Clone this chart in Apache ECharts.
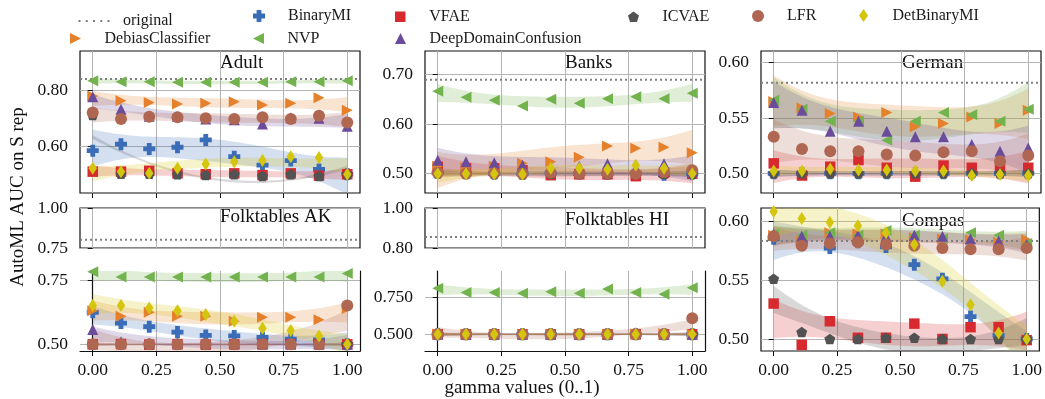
<!DOCTYPE html>
<html>
<head>
<meta charset="utf-8">
<script src="https://cdn.jsdelivr.net/npm/echarts@6/dist/echarts.min.js"></script>
<style>
  html, body { margin: 0; padding: 0; background: #fff; }
  #chart { width: 1045px; height: 399px; }
</style>
</head>
<body>
<div id="chart"></div>
<script>
// gamma values on the x axis
const gamma = [0.000, 0.111, 0.222, 0.333, 0.444, 0.556, 0.667, 0.778, 0.889, 1.000];
const xTicks = [0, 0.25, 0.5, 0.75, 1];

// drawing order of the methods (later ones on top)
const methods = ['BinaryMI', 'VFAE', 'ICVAE', 'DebiasClassifier', 'NVP', 'DeepDomainConfusion', 'LFR', 'DetBinaryMI'];

// mean AutoML AUC on the S representation, per gamma
const adult = {
  BinaryMI:            [0.586, 0.609, 0.592, 0.598, 0.624, 0.565, 0.535, 0.551, 0.520, 0.503],
  VFAE:                [0.512, 0.512, 0.515, 0.506, 0.503, 0.506, 0.500, 0.506, 0.498, 0.503],
  ICVAE:               [0.712, 0.505, 0.505, 0.503, 0.500, 0.503, 0.497, 0.503, 0.497, 0.503],
  DebiasClassifier:    [0.779, 0.762, 0.756, 0.751, 0.753, 0.759, 0.747, 0.753, 0.773, 0.729],
  NVP:                 [0.833, 0.829, 0.829, 0.827, 0.827, 0.827, 0.827, 0.829, 0.829, 0.833],
  DeepDomainConfusion: [0.776, 0.732, 0.707, 0.707, 0.698, 0.695, 0.680, 0.702, 0.700, 0.672],
  LFR:                 [0.721, 0.698, 0.706, 0.704, 0.700, 0.698, 0.704, 0.698, 0.709, 0.685],
  DetBinaryMI:         [0.524, 0.512, 0.506, 0.524, 0.539, 0.547, 0.551, 0.565, 0.562, 0.503]
};
const banks = {
  BinaryMI:            [0.502, 0.501, 0.500, 0.500, 0.501, 0.500, 0.500, 0.501, 0.498, 0.500],
  VFAE:                [0.514, 0.511, 0.511, 0.507, 0.497, 0.499, 0.499, 0.495, 0.502, 0.500],
  ICVAE:               [0.501, 0.500, 0.500, 0.499, 0.500, 0.501, 0.500, 0.500, 0.500, 0.500],
  DebiasClassifier:    [0.515, 0.512, 0.515, 0.521, 0.524, 0.533, 0.556, 0.551, 0.553, 0.542],
  NVP:                 [0.666, 0.654, 0.648, 0.636, 0.650, 0.642, 0.651, 0.655, 0.651, 0.662],
  DeepDomainConfusion: [0.527, 0.524, 0.522, 0.517, 0.511, 0.515, 0.520, 0.511, 0.520, 0.504],
  LFR:                 [0.502, 0.500, 0.501, 0.500, 0.502, 0.500, 0.501, 0.500, 0.503, 0.507],
  DetBinaryMI:         [0.500, 0.500, 0.500, 0.499, 0.511, 0.511, 0.509, 0.517, 0.511, 0.500]
};
const german = {
  BinaryMI:            [0.500, 0.500, 0.500, 0.500, 0.500, 0.500, 0.500, 0.500, 0.500, 0.500],
  VFAE:                [0.509, 0.498, 0.506, 0.512, 0.505, 0.497, 0.507, 0.505, 0.506, 0.505],
  ICVAE:               [0.500, 0.500, 0.500, 0.500, 0.500, 0.500, 0.500, 0.500, 0.500, 0.500],
  DebiasClassifier:    [0.565, 0.559, 0.554, 0.551, 0.555, 0.542, 0.545, 0.551, 0.545, 0.557],
  NVP:                 [0.566, 0.558, 0.547, 0.547, 0.530, 0.547, 0.555, 0.553, 0.547, 0.558],
  DeepDomainConfusion: [0.564, 0.557, 0.538, 0.547, 0.538, 0.533, 0.533, 0.526, 0.520, 0.523],
  LFR:                 [0.533, 0.522, 0.520, 0.520, 0.517, 0.516, 0.519, 0.520, 0.511, 0.516],
  DetBinaryMI:         [0.502, 0.502, 0.504, 0.503, 0.503, 0.502, 0.502, 0.498, 0.499, 0.498]
};
const folkAK = {
  BinaryMI:            [0.625, 0.583, 0.569, 0.548, 0.535, 0.533, 0.527, 0.520, 0.517, 0.500],
  VFAE:                [0.500, 0.501, 0.499, 0.500, 0.499, 0.500, 0.500, 0.500, 0.500, 0.500],
  ICVAE:               [0.500, 0.500, 0.500, 0.500, 0.500, 0.500, 0.500, 0.500, 0.500, 0.500],
  DebiasClassifier:    [0.631, 0.610, 0.625, 0.610, 0.610, 0.590, 0.606, 0.606, 0.596, 0.640],
  NVP:                 [0.783, 0.763, 0.763, 0.763, 0.763, 0.763, 0.763, 0.763, 0.763, 0.777],
  DeepDomainConfusion: [0.558, 0.510, 0.505, 0.505, 0.505, 0.503, 0.502, 0.502, 0.502, 0.500],
  LFR:                 [0.500, 0.500, 0.500, 0.500, 0.500, 0.500, 0.500, 0.500, 0.500, 0.652],
  DetBinaryMI:         [0.652, 0.652, 0.642, 0.631, 0.617, 0.590, 0.563, 0.554, 0.533, 0.500]
};
const folkHI = {
  BinaryMI:            [0.500, 0.500, 0.500, 0.500, 0.500, 0.500, 0.500, 0.500, 0.500, 0.500],
  VFAE:                [0.500, 0.500, 0.500, 0.500, 0.500, 0.500, 0.500, 0.500, 0.500, 0.500],
  ICVAE:               [0.500, 0.500, 0.500, 0.500, 0.500, 0.500, 0.500, 0.500, 0.500, 0.500],
  DebiasClassifier:    [0.502, 0.500, 0.500, 0.500, 0.500, 0.500, 0.500, 0.502, 0.505, 0.500],
  NVP:                 [0.814, 0.786, 0.786, 0.780, 0.791, 0.780, 0.809, 0.786, 0.773, 0.818],
  DeepDomainConfusion: [0.502, 0.500, 0.500, 0.500, 0.500, 0.500, 0.500, 0.510, 0.500, 0.500],
  LFR:                 [0.500, 0.500, 0.500, 0.500, 0.500, 0.500, 0.500, 0.500, 0.500, 0.609],
  DetBinaryMI:         [0.500, 0.500, 0.500, 0.500, 0.500, 0.500, 0.500, 0.500, 0.500, 0.500]
};
const compas = {
  BinaryMI:            [0.585, 0.581, 0.577, 0.582, 0.578, 0.563, 0.551, 0.519, 0.503, 0.500],
  VFAE:                [0.530, 0.495, 0.515, 0.501, 0.501, 0.513, 0.500, 0.510, 0.510, 0.499],
  ICVAE:               [0.551, 0.506, 0.500, 0.500, 0.501, 0.501, 0.500, 0.500, 0.500, 0.500],
  DebiasClassifier:    [0.588, 0.583, 0.590, 0.589, 0.589, 0.586, 0.585, 0.584, 0.582, 0.584],
  NVP:                 [0.589, 0.588, 0.590, 0.588, 0.592, 0.588, 0.585, 0.590, 0.588, 0.581],
  DeepDomainConfusion: [0.589, 0.587, 0.587, 0.588, 0.587, 0.588, 0.587, 0.585, 0.583, 0.580],
  LFR:                 [0.587, 0.579, 0.581, 0.582, 0.580, 0.579, 0.577, 0.576, 0.576, 0.577],
  DetBinaryMI:         [0.608, 0.602, 0.599, 0.596, 0.590, 0.580, 0.549, 0.529, 0.505, 0.500]
};

// 95% confidence half-width of each quadratic fit at gamma = 0.5
const adultCi  = { BinaryMI: 0.040, VFAE: 0.012, ICVAE: 0.004, DebiasClassifier: 0.016, NVP: 0.006, DeepDomainConfusion: 0.015, LFR: 0.016, DetBinaryMI: 0.016 };
const banksCi  = { BinaryMI: 0.004, VFAE: 0.012, ICVAE: 0.004, DebiasClassifier: 0.022, NVP: 0.011, DeepDomainConfusion: 0.016, LFR: 0.006, DetBinaryMI: 0.008 };
const germanCi = { BinaryMI: 0.002, VFAE: 0.009, ICVAE: 0.002, DebiasClassifier: 0.014, NVP: 0.014, DeepDomainConfusion: 0.013, LFR: 0.012, DetBinaryMI: 0.003 };
const folkAKCi = { BinaryMI: 0.022, VFAE: 0.004, ICVAE: 0.004, DebiasClassifier: 0.024, NVP: 0.018, DeepDomainConfusion: 0.018, LFR: 0.025, DetBinaryMI: 0.024 };
const folkHICi = { BinaryMI: 0.005, VFAE: 0.006, ICVAE: 0.005, DebiasClassifier: 0.006, NVP: 0.022, DeepDomainConfusion: 0.008, LFR: 0.022, DetBinaryMI: 0.005 };
const compasCi = { BinaryMI: 0.010, VFAE: 0.010, ICVAE: 0.007, DebiasClassifier: 0.005, NVP: 0.005, DeepDomainConfusion: 0.005, LFR: 0.006, DetBinaryMI: 0.013 };

// AUC of the original (unprocessed) data
const originalAuc = { adult: 0.839, banks: 0.689, german: 0.582, folkAK: 0.802, folkHI: 0.855, compas: 0.583 };

// y tick values
const adultTicks   = [0.60, 0.80];
const banksTicks   = [0.50, 0.60, 0.70];
const germanTicks  = [0.50, 0.55, 0.60];
const akUpperTicks = [0.75, 1.00];
const akLowerTicks = [0.50, 0.75];
const hiUpperTicks = [0.80, 1.00];
const hiLowerTicks = [0.500, 0.750];
const compasTicks  = [0.50, 0.55, 0.60];

const FONT = '"Liberation Serif", "DejaVu Serif", serif';
const X_MIN = -0.05, X_MAX = 1.05;
const BAND_OPACITY = 0.22;

const STYLE = {
  BinaryMI:            { color: '#3a6cb7', symbol: 'path://M3,0H7V3H10V7H7V10H3V7H0V3H3Z', size: [12, 12] },
  VFAE:                { color: '#d62a2f', symbol: 'path://M0,0H10V10H0Z', size: [10.5, 10.5] },
  ICVAE:               { color: '#525252', symbol: 'path://M5,0L10,3.63L8.09,9.51L1.91,9.51L0,3.63Z', size: [11, 10.5] },
  DebiasClassifier:    { color: '#e5802c', symbol: 'path://M0,0L10,5L0,10Z', size: [11, 11] },
  NVP:                 { color: '#72b34e', symbol: 'path://M10,0L0,5L10,10Z', size: [11, 11] },
  DeepDomainConfusion: { color: '#6a4c9b', symbol: 'path://M5,0L10,10L0,10Z', size: [11, 11] },
  LFR:                 { color: '#b06752', symbol: 'circle', size: [12, 12] },
  DetBinaryMI:         { color: '#d4c50e', symbol: 'path://M3.5,0L7,5L3.5,10L0,5Z', size: [8.5, 13] }
};

// panel layout
const panels = [
  { key: 'adult',  grid: { left: 80,  top: 51,  width: 280, height: 142 }, yMin: 0.4367, yMax: 0.9376, ticks: adultTicks,   digits: 2, xLabels: false, data: adult,  ci: adultCi,  original: true,  frame: 'box' },
  { key: 'banks',  grid: { left: 425, top: 51,  width: 280, height: 142 }, yMin: 0.4612, yMax: 0.7469, ticks: banksTicks,   digits: 2, xLabels: false, data: banks,  ci: banksCi,  original: true,  frame: 'box' },
  { key: 'german', grid: { left: 761, top: 51,  width: 280, height: 142 }, yMin: 0.4822, yMax: 0.6106, ticks: germanTicks,  digits: 2, xLabels: false, data: german, ci: germanCi, original: true,  frame: 'box' },
  { key: 'folkAK', grid: { left: 80,  top: 208, width: 280, height: 40 },  yMin: 0.75,   yMax: 1.00,   ticks: akUpperTicks, digits: 2, xLabels: false, xTicks: false, data: null, original: true, frame: 'box' },
  { key: 'folkAK', grid: { left: 80,  top: 271, width: 280, height: 80 },  yMin: 0.474,  yMax: 0.7864, ticks: akLowerTicks, digits: 2, xLabels: true,  data: folkAK, ci: folkAKCi, original: false, frame: 'open' },
  { key: 'folkHI', grid: { left: 425, top: 208, width: 280, height: 40 },  yMin: 0.80,   yMax: 1.00,   ticks: hiUpperTicks, digits: 2, xLabels: false, xTicks: false, data: null, original: true, frame: 'box' },
  { key: 'folkHI', grid: { left: 425, top: 271, width: 280, height: 80 },  yMin: 0.386,  yMax: 0.932,  ticks: hiLowerTicks, digits: 3, xLabels: true,  data: folkHI, ci: folkHICi, original: false, frame: 'open' },
  { key: 'compas', grid: { left: 761, top: 208, width: 280, height: 143 }, yMin: 0.4898, yMax: 0.611,  ticks: compasTicks,  digits: 2, xLabels: true,  data: compas, ci: compasCi, original: true,  frame: 'box' }
];

const titles = [
  { text: 'Adult', x: 220, y: 63 },
  { text: 'Banks', x: 565, y: 63 },
  { text: 'German', x: 902, y: 63 },
  { text: 'Folktables AK', x: 220, y: 217 },
  { text: 'Folktables HI', x: 565, y: 220 },
  { text: 'Compas', x: 902, y: 221 }
];

// ---- quadratic least-squares fit with leverage-shaped confidence band ----
function inv3(m) {
  const [a, b, c] = m[0], [d, e, f] = m[1], [g, h, i] = m[2];
  const A = e * i - f * h, B = -(d * i - f * g), C = d * h - e * g;
  const det = a * A + b * B + c * C;
  return [
    [A / det, -(b * i - c * h) / det, (b * f - c * e) / det],
    [B / det, (a * i - c * g) / det, -(a * f - c * d) / det],
    [C / det, -(a * h - b * g) / det, (a * e - b * d) / det]
  ];
}
function quadFit(xs, ys) {
  const S = [[0, 0, 0], [0, 0, 0], [0, 0, 0]], r = [0, 0, 0];
  xs.forEach((x, k) => {
    const v = [1, x, x * x];
    for (let p = 0; p < 3; p++) {
      r[p] += v[p] * ys[k];
      for (let q = 0; q < 3; q++) S[p][q] += v[p] * v[q];
    }
  });
  const M = inv3(S);
  const coef = M.map(row => row[0] * r[0] + row[1] * r[1] + row[2] * r[2]);
  const lev = x => {
    const v = [1, x, x * x];
    let s = 0;
    for (let p = 0; p < 3; p++) for (let q = 0; q < 3; q++) s += v[p] * M[p][q] * v[q];
    return s;
  };
  return { predict: x => coef[0] + coef[1] * x + coef[2] * x * x, lev };
}
function bandSamples(ys, ciMid, yMin, yMax) {
  const fit = quadFit(gamma, ys);
  const l0 = fit.lev(0.5);
  const out = [];
  const n = 60;
  const clamp = v => Math.min(yMax, Math.max(yMin, v));
  for (let k = 0; k <= n; k++) {
    const x = gamma[0] + (gamma[gamma.length - 1] - gamma[0]) * k / n;
    const c = fit.predict(x);
    const hw = ciMid * Math.sqrt(fit.lev(x) / l0);
    out.push([x, clamp(c - hw), clamp(c + hw)]);
  }
  return out;
}

// ---- assemble option ----
const grids = [], xAxes = [], yAxes = [], series = [];
const axisText = { fontFamily: FONT, fontSize: 17.5, color: '#111' };
const splitStyle = { color: '#b4b4b4', width: 1 };

panels.forEach((p, gi) => {
  grids.push(Object.assign({
    show: p.frame === 'box', borderColor: '#111', borderWidth: 1.2, backgroundColor: 'transparent'
  }, p.grid));

  xAxes.push({
    type: 'value', gridIndex: gi, min: X_MIN, max: X_MAX,
    axisLine: { show: p.frame === 'open', lineStyle: { color: '#111', width: 1.2 } },
    axisTick: { show: p.xTicks !== false, customValues: xTicks, length: 5, lineStyle: { color: '#111', width: 1 } },
    axisLabel: Object.assign({ show: p.xLabels, customValues: xTicks, margin: 10, formatter: v => v.toFixed(2) }, axisText),
    splitLine: { show: true, lineStyle: splitStyle }
  });

  yAxes.push({
    type: 'value', gridIndex: gi, min: p.yMin, max: p.yMax,
    axisLine: { show: p.frame === 'open', lineStyle: { color: '#111', width: 1.2 } },
    axisTick: { show: true, customValues: p.ticks, length: 5, lineStyle: { color: '#111', width: 1 } },
    axisLabel: Object.assign({ show: true, customValues: p.ticks, margin: 12, formatter: v => v.toFixed(p.digits) }, axisText),
    splitLine: { show: true, lineStyle: splitStyle }
  });
  const yIdx = yAxes.length - 1;

  // right-hand spine for the open (lower) panels
  if (p.frame === 'open') {
    yAxes.push({
      type: 'value', gridIndex: gi, position: 'right', min: p.yMin, max: p.yMax,
      axisLine: { show: true, lineStyle: { color: '#111', width: 1.2 } },
      axisTick: { show: false }, axisLabel: { show: false }, splitLine: { show: false }
    });
  }

  if (p.original) {
    series.push({
      name: 'original', type: 'line', xAxisIndex: gi, yAxisIndex: yIdx, z: 2, silent: true,
      symbol: 'none', animation: false,
      data: [[X_MIN, originalAuc[p.key]], [X_MAX, originalAuc[p.key]]],
      itemStyle: { color: '#7f7f7f' },
      lineStyle: { color: '#7f7f7f', width: 2, type: [2, 3] }
    });
  }

  if (!p.data) return;

  // confidence bands of the quadratic fits
  methods.forEach(m => {
    const band = bandSamples(p.data[m], p.ci[m], p.yMin, p.yMax);
    const color = STYLE[m].color;
    series.push({
      name: m + ' fit', type: 'custom', xAxisIndex: gi, yAxisIndex: yIdx, z: 1, silent: true, animation: false,
      data: band,
      renderItem: (params, api) => {
        if (params.dataIndexInside !== 0) return null;
        const pts = [];
        band.forEach(b => pts.push(api.coord([b[0], b[2]])));
        for (let k = band.length - 1; k >= 0; k--) pts.push(api.coord([band[k][0], band[k][1]]));
        return { type: 'polygon', shape: { points: pts }, style: { fill: color, opacity: BAND_OPACITY } };
      }
    });
  });

  // mean points
  methods.forEach(m => {
    const st = STYLE[m];
    series.push({
      name: m, type: 'scatter', xAxisIndex: gi, yAxisIndex: yIdx, z: 3, silent: true, animation: false,
      symbol: st.symbol, symbolSize: st.size,
      itemStyle: { color: st.color, opacity: 1 },
      data: gamma.map((g, k) => [g, p.data[m][k]])
    });
  });
});

// ---- legend: one component per entry, laid out in six columns ----
const legendSlots = [
  { name: 'original', cx: 94, cy: 14 },
  { name: 'BinaryMI', cx: 277, cy: 14 },
  { name: 'VFAE', cx: 419, cy: 14 },
  { name: 'ICVAE', cx: 652, cy: 14 },
  { name: 'LFR', cx: 776, cy: 14 },
  { name: 'DetBinaryMI', cx: 883, cy: 14 },
  { name: 'DebiasClassifier', cx: 94, cy: 36 },
  { name: 'NVP', cx: 277, cy: 36 },
  { name: 'DeepDomainConfusion', cx: 419, cy: 36 }
];
// dotted-line key: the two bare moveTo points fix the icon box at 48 x 2
const DOTS = 'path://M0,0M48,2M8.5,0h2v2h-2z M15.75,0h2v2h-2z M23,0h2v2h-2z M30.25,0h2v2h-2z M37.5,0h2v2h-2z';
const legends = legendSlots.map(s => {
  const isLine = s.name === 'original';
  const h = isLine ? 2 : STYLE[s.name].size[1];
  return {
    show: true, selectedMode: false, orient: 'horizontal', padding: 0,
    left: s.cx - 24, top: s.cy - h / 2,
    itemWidth: 48, itemHeight: h, symbolKeepAspect: true,
    textStyle: { fontFamily: FONT, fontSize: 16, color: '#1a1a1a' },
    data: [isLine
      ? { name: s.name, icon: DOTS, itemStyle: { color: '#7f7f7f' }, lineStyle: { width: 0 } }
      : { name: s.name, icon: STYLE[s.name].symbol, itemStyle: { color: STYLE[s.name].color } }]
  };
});

const graphics = titles.map(t => ({
  type: 'text', x: t.x, y: t.y, silent: true,
  style: { text: t.text, font: '19px ' + FONT, fill: '#111', textAlign: 'left', textVerticalAlign: 'middle' }
}));
graphics.push({
  type: 'text', x: 18, y: 197, rotation: Math.PI / 2, silent: true,
  style: { text: 'AutoML AUC on S rep', font: '19px ' + FONT, fill: '#111', textAlign: 'center', textVerticalAlign: 'middle' }
});
graphics.push({
  type: 'text', x: 522, y: 388, silent: true,
  style: { text: 'gamma values (0..1)', font: '19px ' + FONT, fill: '#111', textAlign: 'center', textVerticalAlign: 'middle' }
});

const chart = echarts.init(document.getElementById('chart'), null, { renderer: 'canvas' });
chart.setOption({
  animation: false,
  backgroundColor: '#fff',
  grid: grids,
  xAxis: xAxes,
  yAxis: yAxes,
  legend: legends,
  graphic: graphics,
  series: series
});
</script>
</body>
</html>
